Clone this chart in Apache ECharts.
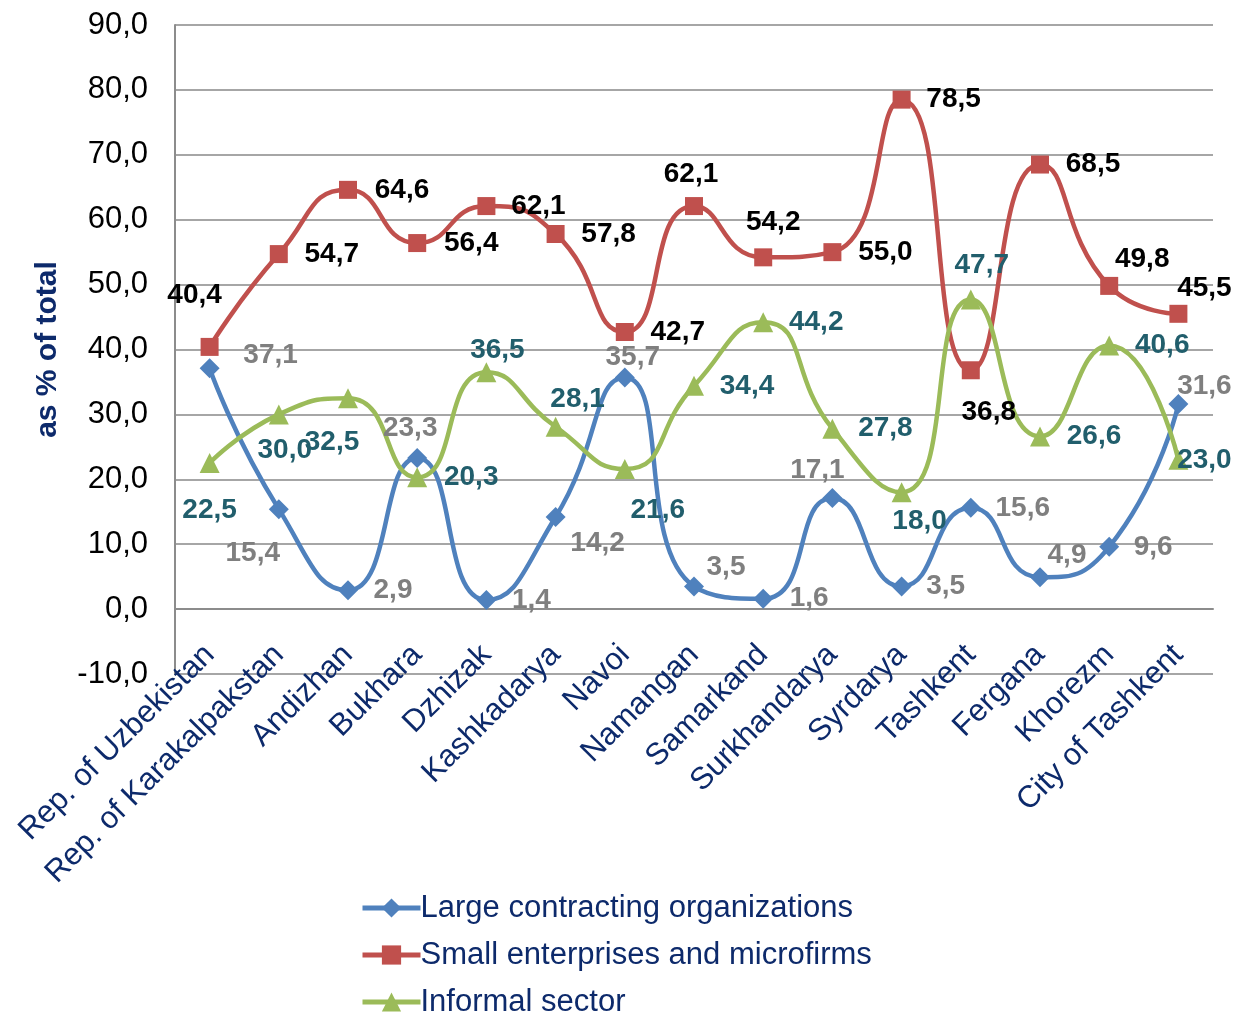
<!DOCTYPE html>
<html>
<head>
<meta charset="utf-8">
<title>Construction by type of organization</title>
<script src="https://cdn.jsdelivr.net/npm/echarts@6/dist/echarts.min.js"></script>
<style>
    html, body { margin: 0; padding: 0; background: #fff; }
    #chart { width: 1250px; height: 1014px; }
</style>
</head>
<body>
<div id="chart"></div>
<script>
// regions
var regions = ['Rep. of Uzbekistan', 'Rep. of Karakalpakstan', 'Andizhan', 'Bukhara', 'Dzhizak',
    'Kashkadarya', 'Navoi', 'Namangan', 'Samarkand', 'Surkhandarya', 'Syrdarya', 'Tashkent',
    'Fergana', 'Khorezm', 'City of Tashkent'];

// series values, as % of total
var largeOrg = [37.1, 15.4, 2.9, 23.3, 1.4, 14.2, 35.7, 3.5, 1.6, 17.1, 3.5, 15.6, 4.9, 9.6, 31.6];
var smallEnt = [40.4, 54.7, 64.6, 56.4, 62.1, 57.8, 42.7, 62.1, 54.2, 55.0, 78.5, 36.8, 68.5, 49.8, 45.5];
var informal = [22.5, 30.0, 32.5, 20.3, 36.5, 28.1, 21.6, 34.4, 44.2, 27.8, 18.0, 47.7, 26.6, 40.6, 23.0];

var seriesNames = ['Large contracting organizations', 'Small enterprises and microfirms', 'Informal sector'];

// y axis ticks
var yMin = -10, yMax = 90, yStep = 10;

// label placement (pixel offsets from the marker)
var largeOff = [[61, -13], [-26, 44], [45, 0], [-7, -30], [45, 0], [42, 26], [8, -20], [32, -19],
    [46, 0], [-15, -28], [44, 0], [52, 0], [27, -22], [44, 0], [26, -18]];
var smallOff = [[-15, -52], [53, 0], [54, 0], [54, 0], [52, 0], [53, 0], [53, 0], [-3, -32],
    [10, -35], [53, 0], [52, 0], [18, 42], [53, 0], [33, -27], [26, -26]];
var informalOff = [[0, 47], [6, 36], [-16, 44], [54, 0], [11, -22], [22, -27], [33, 41], [53, 0],
    [53, 0], [53, 0], [18, 29], [11, -34], [54, 0], [53, 0], [26, 0]];

var font = "'Liberation Sans', Arial, sans-serif";

function comma(v) {
    return Number(v).toFixed(1).replace('.', ',');
}

function withLabels(values, offsets) {
    return values.map(function (v, i) {
        return { value: v, label: { offset: offsets[i] } };
    });
}

function lineSeries(name, values, offsets, color, symbol, size, labelColor) {
    return {
        name: name,
        type: 'line',
        smooth: 0.55,
        data: withLabels(values, offsets),
        symbol: symbol,
        symbolSize: size,
        lineStyle: { color: color, width: 4.5 },
        itemStyle: { color: color },
        label: {
            show: true,
            position: 'inside',
            align: 'center',
            verticalAlign: 'middle',
            color: labelColor,
            fontFamily: font,
            fontWeight: 'bold',
            fontSize: 28,
            formatter: function (p) { return comma(p.value); }
        },
        emphasis: { disabled: true }
    };
}

var chart = echarts.init(document.getElementById('chart'));
var option = {
    animation: false,
    backgroundColor: '#ffffff',
    grid: { left: 175, right: 37, top: 25, bottom: 340, containLabel: false },
    legend: {
        orient: 'vertical',
        left: 355,
        top: 887,
        height: 140,
        itemWidth: 58,
        itemHeight: 24,
        itemGap: 15,
        lineStyle: { width: 5 },
        textStyle: { color: '#0d2a6b', fontFamily: font, fontSize: 31, lineHeight: 32, padding: [0, 0, 0, -5] },
        data: seriesNames
    },
    xAxis: {
        type: 'category',
        data: regions,
        boundaryGap: true,
        axisLine: { lineStyle: { color: '#8c8c8c', width: 2 } },
        axisTick: { show: false },
        axisLabel: {
            rotate: 45,
            interval: 0,
            margin: -24,
            color: '#0d2a6b',
            fontFamily: font,
            fontSize: 31
        }
    },
    yAxis: {
        type: 'value',
        min: yMin,
        max: yMax,
        interval: yStep,
        name: 'as % of total',
        nameLocation: 'middle',
        nameRotate: 90,
        nameGap: 112,
        nameTextStyle: { color: '#0d2a6b', fontFamily: font, fontWeight: 'bold', fontSize: 30 },
        axisLine: { show: true, lineStyle: { color: '#8c8c8c', width: 2 } },
        axisTick: { show: false },
        splitLine: { lineStyle: { color: '#a6a6a6', width: 2 } },
        axisLabel: {
            color: '#000',
            fontFamily: font,
            fontSize: 31,
            margin: 27,
            formatter: function (v) { return comma(v); }
        }
    },
    series: [
        lineSeries(seriesNames[0], largeOrg, largeOff, '#4f81bd', 'diamond', 20, '#7f7f7f'),
        lineSeries(seriesNames[1], smallEnt, smallOff, '#c0504d', 'rect', 18, '#000000'),
        lineSeries(seriesNames[2], informal, informalOff, '#9bbb59', 'triangle', 20, '#215e6c')
    ]
};
chart.setOption(option);
</script>
</body>
</html>
